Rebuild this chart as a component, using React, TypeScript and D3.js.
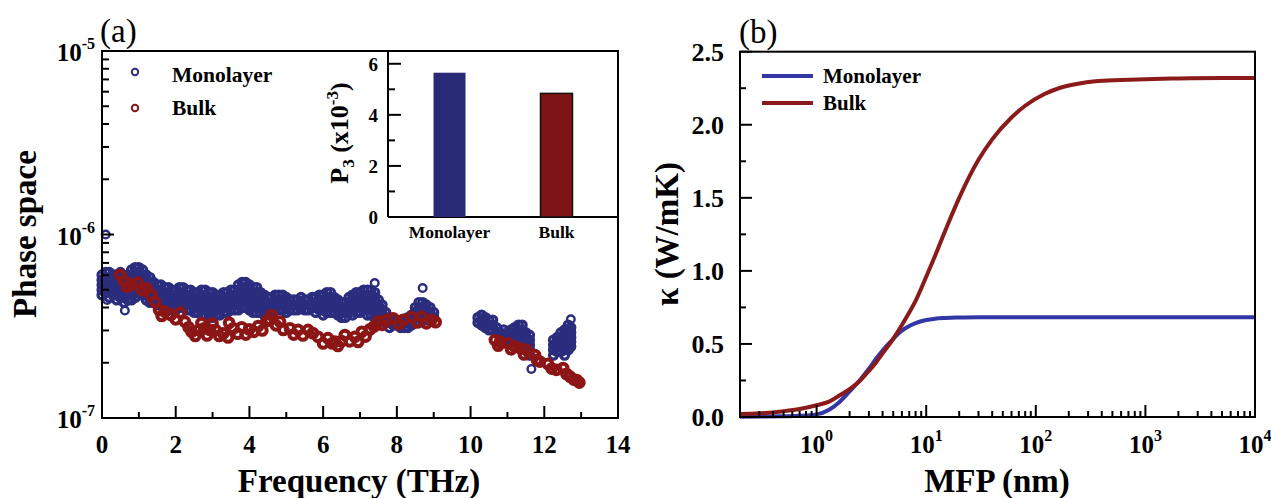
import * as d3 from "d3"

const FONT = "Liberation Serif, Tinos, DejaVu Serif, serif"

// ---- (a) phase space, values in units of 1e-7 ----
// monolayer cloud: [frequency (THz), values at that frequency]
const monoColumns: [number, number[]][] = [
  [0.0, [6.02, 5.65, 5.31, 4.98, 4.68]],
  [0.1, [6.21, 5.83, 5.48, 5.14, 4.83]],
  [0.2, [6.21, 5.83, 5.48, 5.14, 4.83, 4.54]],
  [0.3, [6.02, 5.65, 5.31, 4.98, 4.68]],
  [0.4, [6.02, 5.65, 5.31, 4.98, 4.68, 4.4]],
  [0.5, [6.21, 5.83, 5.48, 5.14, 4.83, 4.54]],
  [0.6, [5.83, 5.48, 5.14, 4.83, 4.54, 4.26]],
  [0.7, [6.02, 5.65, 5.31, 4.98, 4.68, 4.4]],
  [0.8, [6.41, 6.02, 5.65, 5.31, 4.98, 4.68, 4.4]],
  [0.9, [6.61, 6.21, 5.83, 5.48, 5.14, 4.83, 4.54]],
  [1.0, [6.61, 6.21, 5.83, 5.48, 5.14, 4.83]],
  [1.1, [6.41, 6.02, 5.65, 5.31, 4.98, 4.68]],
  [1.2, [6.02, 5.65, 5.31, 4.98, 4.68, 4.4]],
  [1.3, [5.83, 5.48, 5.14, 4.83, 4.54, 4.26]],
  [1.4, [5.48, 5.14, 4.83, 4.54, 4.26]],
  [1.5, [5.31, 4.98, 4.68, 4.4, 4.13]],
  [1.6, [5.31, 4.98, 4.68, 4.4, 4.13]],
  [1.7, [5.14, 4.83, 4.54, 4.26, 4.0]],
  [1.8, [5.14, 4.83, 4.54, 4.26, 4.0]],
  [1.9, [4.98, 4.68, 4.4, 4.13, 3.88]],
  [2.0, [4.98, 4.68, 4.4, 4.13, 3.88]],
  [2.1, [5.14, 4.83, 4.54, 4.26, 4.0]],
  [2.2, [5.14, 4.83, 4.54, 4.26, 4.0]],
  [2.3, [4.98, 4.68, 4.4, 4.13, 3.88]],
  [2.4, [4.98, 4.68, 4.4, 4.13, 3.88]],
  [2.5, [4.83, 4.54, 4.26, 4.0, 3.76]],
  [2.6, [4.83, 4.54, 4.26, 4.0, 3.76]],
  [2.7, [4.98, 4.68, 4.4, 4.13, 3.88]],
  [2.8, [4.98, 4.68, 4.4, 4.13, 3.88, 3.64]],
  [2.9, [4.83, 4.54, 4.26, 4.0, 3.76, 3.53]],
  [3.0, [4.83, 4.54, 4.26, 4.0, 3.76, 3.53]],
  [3.1, [4.68, 4.4, 4.13, 3.88, 3.64]],
  [3.2, [4.68, 4.4, 4.13, 3.88, 3.64]],
  [3.3, [4.83, 4.54, 4.26, 4.0, 3.76]],
  [3.4, [4.83, 4.54, 4.26, 4.0, 3.76]],
  [3.5, [4.98, 4.68, 4.4, 4.13, 3.88]],
  [3.6, [4.98, 4.68, 4.4, 4.13, 3.88]],
  [3.7, [5.31, 4.98, 4.68, 4.4, 4.13, 3.88]],
  [3.8, [5.48, 5.14, 4.83, 4.54, 4.26, 4.0]],
  [3.9, [5.48, 5.14, 4.83, 4.54, 4.26, 4.0]],
  [4.0, [5.31, 4.98, 4.68, 4.4, 4.13, 3.88]],
  [4.1, [5.14, 4.83, 4.54, 4.26, 4.0, 3.76]],
  [4.2, [5.14, 4.83, 4.54, 4.26, 4.0, 3.76]],
  [4.3, [4.83, 4.54, 4.26, 4.0, 3.76]],
  [4.4, [4.68, 4.4, 4.13, 3.88, 3.64]],
  [4.5, [4.54, 4.26, 4.0, 3.76]],
  [4.6, [4.54, 4.26, 4.0, 3.76]],
  [4.7, [4.68, 4.4, 4.13, 3.88]],
  [4.8, [4.68, 4.4, 4.13, 3.88]],
  [4.9, [4.68, 4.4, 4.13, 3.88]],
  [5.0, [4.54, 4.26, 4.0, 3.76]],
  [5.1, [4.4, 4.13, 3.88]],
  [5.2, [4.4, 4.13, 3.88]],
  [5.3, [4.4, 4.13, 3.88]],
  [5.4, [4.54, 4.26, 4.0]],
  [5.5, [4.4, 4.13, 3.88]],
  [5.6, [4.4, 4.13, 3.88]],
  [5.7, [4.54, 4.26, 4.0]],
  [5.8, [4.54, 4.26, 4.0, 3.76]],
  [5.9, [4.68, 4.4, 4.13, 3.88]],
  [6.0, [4.68, 4.4, 4.13, 3.88, 3.64]],
  [6.1, [4.83, 4.54, 4.26, 4.0, 3.76]],
  [6.2, [4.83, 4.54, 4.26, 4.0, 3.76]],
  [6.3, [4.54, 4.26, 4.0, 3.76]],
  [6.4, [4.4, 4.13, 3.88, 3.64]],
  [6.5, [4.26, 4.0, 3.76, 3.53]],
  [6.6, [4.26, 4.0, 3.76, 3.53]],
  [6.7, [4.54, 4.26, 4.0, 3.76]],
  [6.8, [4.68, 4.4, 4.13, 3.88, 3.64]],
  [6.9, [4.83, 4.54, 4.26, 4.0, 3.76]],
  [7.0, [4.83, 4.54, 4.26, 4.0, 3.76]],
  [7.1, [4.98, 4.68, 4.4, 4.13, 3.88]],
  [7.2, [4.98, 4.68, 4.4, 4.13, 3.88, 3.64]],
  [7.3, [4.98, 4.68, 4.4, 4.13, 3.88, 3.64]],
  [7.4, [4.83, 4.54, 4.26, 4.0, 3.76, 3.53]],
  [7.5, [4.4, 4.13, 3.88, 3.64, 3.42]],
  [7.6, [4.13, 3.88, 3.64, 3.42]],
  [7.7, [3.76, 3.53, 3.31]],
  [7.8, [3.53, 3.31, 3.11]],
  [7.9, [3.42, 3.21]],
  [8.0, [3.42, 3.21]],
  [8.1, [3.31, 3.11]],
  [8.2, [3.31, 3.11]],
  [8.3, [3.53, 3.31, 3.11]],
  [8.4, [3.64, 3.42, 3.21]],
  [8.5, [4.0, 3.76, 3.53, 3.31]],
  [8.6, [4.26, 4.0, 3.76, 3.53, 3.31]],
  [8.7, [4.26, 4.0, 3.76, 3.53]],
  [8.8, [4.13, 3.88, 3.64, 3.42]],
  [8.9, [4.0, 3.76, 3.53]],
  [9.0, [3.76, 3.53]],
  [10.2, [3.53, 3.31]],
  [10.3, [3.64, 3.42, 3.21]],
  [10.4, [3.53, 3.31, 3.11]],
  [10.5, [3.42, 3.21, 3.02]],
  [10.6, [3.42, 3.21, 3.02]],
  [10.7, [3.11, 2.92]],
  [10.8, [2.92, 2.75]],
  [10.9, [3.02, 2.83, 2.66]],
  [11.0, [2.92, 2.75, 2.6]],
  [11.1, [3.02, 2.83, 2.66]],
  [11.2, [3.11, 2.92, 2.75, 2.6]],
  [11.3, [3.21, 3.02, 2.83, 2.66]],
  [11.4, [3.21, 3.02, 2.83, 2.66, 2.5]],
  [11.5, [2.92, 2.75, 2.6, 2.45]],
  [11.6, [2.83, 2.66, 2.5, 2.35, 2.2]],
  [12.25, [2.66, 2.5, 2.35, 2.2]],
  [12.35, [2.75, 2.6, 2.45, 2.3]],
  [12.45, [2.92, 2.75, 2.6, 2.45, 2.3]],
  [12.55, [3.02, 2.83, 2.66, 2.5, 2.35, 2.2]],
  [12.65, [3.21, 3.02, 2.83, 2.66, 2.5, 2.35]],
  [12.72, [3.11, 2.92, 2.75, 2.6, 2.45]],
]
const monoOutliers: [number, number][] = [
  [0.1, 10.0], [0.14, 4.4], [0.62, 3.85], [7.4, 5.44], [8.7, 5.11], [11.65, 1.85], [12.72, 3.45],
]
const bulkPoints: [number, number][] = [
  [0.49, 6.02], [0.6, 5.6], [0.68, 5.2], [0.8, 5.35], [0.97, 5.46], [1.08, 4.98], [1.21, 5.09], [1.33, 4.68],
  [1.44, 4.3], [1.55, 3.88], [1.62, 3.6], [1.71, 3.8], [1.87, 3.64], [2.0, 3.45], [2.12, 3.75],
  [2.25, 3.35], [2.35, 3.12], [2.43, 2.95], [2.53, 2.8], [2.63, 3.02], [2.7, 3.29], [2.77, 3.08],
  [2.85, 2.82], [2.93, 3.02], [3.0, 3.27], [3.08, 3.02], [3.18, 2.8], [3.29, 2.89], [3.42, 2.75],
  [3.45, 3.3], [3.56, 3.08], [3.68, 2.88], [3.79, 3.12], [3.9, 2.85], [3.99, 3.04], [4.12, 2.95],
  [4.24, 3.17], [4.35, 3.0], [4.47, 3.38], [4.55, 3.42], [4.6, 3.64], [4.72, 3.2], [4.83, 3.35],
  [4.92, 3.02], [5.1, 3.08], [5.2, 2.85], [5.32, 3.02], [5.45, 2.82], [5.59, 3.02], [5.72, 2.9],
  [5.86, 2.77], [6.0, 2.55], [6.13, 2.72], [6.25, 2.55], [6.32, 2.61], [6.4, 2.47], [6.5, 2.62],
  [6.59, 2.83], [6.72, 2.62], [6.86, 2.77], [6.95, 2.6], [7.05, 2.95], [7.15, 2.78], [7.27, 3.04],
  [7.38, 3.15], [7.49, 3.35], [7.6, 3.22], [7.72, 3.42], [7.9, 3.49], [8.05, 3.25], [8.17, 3.42],
  [8.4, 3.54], [8.55, 3.32], [8.67, 3.56], [8.8, 3.28], [8.94, 3.42], [9.05, 3.33],
  [10.66, 2.66], [10.75, 2.48], [10.8, 2.6], [11.02, 2.55], [11.1, 2.37], [11.2, 2.45],
  [11.36, 2.39], [11.45, 2.22], [11.52, 2.35], [11.75, 2.2], [11.8, 2.07], [11.88, 2.03],
  [12.1, 1.97], [12.2, 1.86], [12.33, 1.83], [12.51, 1.87], [12.6, 1.74], [12.7, 1.68],
  [12.8, 1.62], [12.88, 1.61], [12.95, 1.56],
]
const freqTicks = [0, 2, 4, 6, 8, 10, 12, 14]
const phaseDecades = [-7, -6, -5]

// inset: three-phonon phase space P3 (x1e-3)
const insetCategories = ["Monolayer", "Bulk"]
const insetP3 = [5.65, 4.84]
const insetTicks = [0, 2, 4, 6]

// ---- (b) cumulative thermal conductivity ----
const mfp = [0.2, 0.3, 0.5, 0.7, 1, 1.3, 1.6, 2, 2.5, 3, 3.5, 4, 5, 6, 7, 8, 10, 12, 15, 20, 30, 40, 60, 80, 120, 170, 250, 350, 600, 1000, 2000, 5000, 10000]
const kappaMono = [0.002, 0.003, 0.005, 0.008, 0.018, 0.05, 0.1, 0.175, 0.255, 0.33, 0.4, 0.455, 0.535, 0.59, 0.622, 0.643, 0.664, 0.673, 0.678, 0.681, 0.683, 0.683, 0.683, 0.683, 0.683, 0.683, 0.683, 0.683, 0.683, 0.683, 0.683, 0.683, 0.683]
const kappaBulk = [0.02, 0.025, 0.04, 0.055, 0.08, 0.105, 0.145, 0.19, 0.25, 0.315, 0.375, 0.435, 0.535, 0.63, 0.715, 0.795, 0.96, 1.1, 1.28, 1.5, 1.76, 1.9, 2.05, 2.13, 2.21, 2.255, 2.283, 2.297, 2.306, 2.312, 2.317, 2.32, 2.32]
const mfpDecades = [0, 1, 2, 3, 4]
const kappaTicks = [0, 0.5, 1.0, 1.5, 2.0, 2.5]

const BLUE = "#2b2d7e"
const RED = "#8c1616"
const LINE_BLUE = "#3337a6"
const LINE_RED = "#8b1a1a"

const isPow10 = (t: number) => Math.abs(Math.log10(t) - Math.round(Math.log10(t))) < 1e-6

export default function App() {
  const xA = d3.scaleLinear().domain([0, 14]).range([102, 618])
  const yA = d3.scaleLog().domain([1e-7, 1e-5]).range([418, 51])
  const xI = d3.scalePoint<string>().domain(insetCategories).range([388, 618]).padding(0.575)
  const yI = d3.scaleLinear().domain([0, 6.5]).range([217, 51])
  const xB = d3.scaleLog().domain([0.2, 1e4]).range([740, 1255])
  const yB = d3.scaleLinear().domain([0, 2.5]).range([417, 51.7])

  const monoPoints = monoColumns.flatMap(([f, vs]) => vs.map((v) => [f, v] as [number, number]))
  const line = d3
    .line<number>()
    .x((_, i) => xB(mfp[i]))
    .y((d) => yB(d))
    .curve(d3.curveMonotoneX)

  const [ax0, ax1] = xA.range()
  const [ay0, ay1] = yA.range()
  const [bx0, bx1] = xB.range()
  const [by0, by1] = yB.range()

  return (
    <svg width={1271} height={498} style={{ position: "absolute", left: 0, top: 0, fontFamily: FONT }}>
      <rect width={1271} height={498} fill="#fff" />

      {/* ---------- panel (a) ---------- */}
      <text x={100} y={42} fontSize={33}>(a)</text>
      {monoPoints.map(([f, v], i) => (
        <circle key={"m" + i} cx={xA(f)} cy={yA(v * 1e-7)} r={4} fill="none" stroke={BLUE} strokeWidth={3.2} />
      ))}
      {monoOutliers.map(([f, v], i) => (
        <circle key={"o" + i} cx={xA(f)} cy={yA(v * 1e-7)} r={3.8} fill="none" stroke={BLUE} strokeWidth={2.4} />
      ))}
      {bulkPoints.map(([f, v], i) => (
        <circle key={"b" + i} cx={xA(f)} cy={yA(v * 1e-7)} r={4.4} fill="none" stroke={RED} strokeWidth={4} />
      ))}
      <rect x={ax0} y={ay1} width={ax1 - ax0} height={ay0 - ay1} fill="none" stroke="#000" strokeWidth={2} />
      {d3.range(0, 15).map((t) => (
        <line key={"xt" + t} x1={xA(t)} x2={xA(t)} y1={ay0} y2={ay0 - (t % 2 === 0 ? 12 : 6)} stroke="#000" strokeWidth={2} />
      ))}
      {freqTicks.map((t) => (
        <text key={"xl" + t} x={xA(t)} y={453} fontSize={25} fontWeight="bold" textAnchor="middle">{t}</text>
      ))}
      {yA.ticks().map((t, i) => (
        <line key={"yt" + i} x1={ax0} x2={ax0 + (isPow10(t) ? 12 : 7)} y1={yA(t)} y2={yA(t)} stroke="#000" strokeWidth={2} />
      ))}
      {phaseDecades.map((e) => (
        <text key={"yl" + e} x={95} y={yA(Math.pow(10, e)) + 10} fontSize={25} fontWeight="bold" textAnchor="end">
          10<tspan dy={-12} fontSize={16}>{e}</tspan>
        </text>
      ))}
      <text transform={`translate(36,234) rotate(-90)`} fontSize={33} fontWeight="bold" textAnchor="middle">Phase space</text>
      <text x={359} y={492} fontSize={33} fontWeight="bold" textAnchor="middle">Frequency (THz)</text>

      {/* legend (a) */}
      <circle cx={135} cy={72} r={3.2} fill="none" stroke={BLUE} strokeWidth={2} />
      <circle cx={135} cy={108} r={3.2} fill="none" stroke={RED} strokeWidth={2} />
      <text x={172} y={82} fontSize={21.5} fontWeight="bold">Monolayer</text>
      <text x={172} y={115} fontSize={21.5} fontWeight="bold">Bulk</text>

      {/* inset */}
      <line x1={388} x2={388} y1={yI(6.5)} y2={yI(0)} stroke="#000" strokeWidth={2} />
      <line x1={388} x2={618} y1={yI(0)} y2={yI(0)} stroke="#000" strokeWidth={2} />
      {d3.range(0, 7).map((t) => (
        <line key={"it" + t} x1={388} x2={388 + (t % 2 === 0 ? 13 : 7)} y1={yI(t)} y2={yI(t)} stroke="#000" strokeWidth={2} />
      ))}
      {insetTicks.map((t) => (
        <text key={"il" + t} x={378} y={yI(t) + 7} fontSize={19} fontWeight="bold" textAnchor="end">{t}</text>
      ))}
      {insetCategories.map((c, i) => (
        <g key={c}>
          <rect
            x={(xI(c) as number) - 16}
            y={yI(insetP3[i])}
            width={32}
            height={yI(0) - yI(insetP3[i])}
            fill={i === 0 ? "#2a2b77" : "#7e1416"}
            stroke={i === 0 ? "none" : "#111"}
            strokeWidth={1.5}
          />
          <text x={xI(c) as number} y={238} fontSize={17.5} fontWeight="bold" textAnchor="middle">{c}</text>
        </g>
      ))}
      <text transform={`translate(348,133) rotate(-90)`} fontSize={26} fontWeight="bold" textAnchor="middle">
        P<tspan dy={6} fontSize={17}>3</tspan>
        <tspan dy={-6}> (x10</tspan>
        <tspan dy={-10} fontSize={17}>-3</tspan>
        <tspan dy={10}>)</tspan>
      </text>

      {/* ---------- panel (b) ---------- */}
      <text x={739} y={43} fontSize={33}>(b)</text>
      <path d={line(kappaMono) ?? ""} fill="none" stroke={LINE_BLUE} strokeWidth={4} />
      <path d={line(kappaBulk) ?? ""} fill="none" stroke={LINE_RED} strokeWidth={4} />
      <rect x={bx0} y={by1} width={bx1 - bx0} height={by0 - by1} fill="none" stroke="#000" strokeWidth={2} />
      {xB.ticks().map((t, i) => (
        <line key={"bxt" + i} x1={xB(t)} x2={xB(t)} y1={by0} y2={by0 - (isPow10(t) ? 12 : 6)} stroke="#000" strokeWidth={2} />
      ))}
      {mfpDecades.map((e) => (
        <text key={"bxl" + e} x={xB(Math.pow(10, e))} y={453} fontSize={25} fontWeight="bold" textAnchor="middle">
          10<tspan dy={-12} fontSize={16}>{e}</tspan>
        </text>
      ))}
      {d3.range(0, 2.51, 0.25).map((t, i) => (
        <line key={"byt" + i} x1={bx0} x2={bx0 + (i % 2 === 0 ? 12 : 6)} y1={yB(t)} y2={yB(t)} stroke="#000" strokeWidth={2} />
      ))}
      {kappaTicks.map((t) => (
        <text key={"byl" + t} x={724} y={yB(t) + 9} fontSize={26} fontWeight="bold" textAnchor="end">{t.toFixed(1)}</text>
      ))}
      <text transform={`translate(678,234) rotate(-90)`} fontSize={33} fontWeight="bold" textAnchor="middle">κ (W/mK)</text>
      <text x={997} y={492} fontSize={33} fontWeight="bold" textAnchor="middle">MFP (nm)</text>

      {/* legend (b) */}
      <line x1={762} x2={813} y1={76} y2={76} stroke={LINE_BLUE} strokeWidth={4} />
      <line x1={762} x2={813} y1={103} y2={103} stroke={LINE_RED} strokeWidth={4} />
      <text x={823} y={83} fontSize={21} fontWeight="bold">Monolayer</text>
      <text x={823} y={110} fontSize={21} fontWeight="bold">Bulk</text>
    </svg>
  )
}
